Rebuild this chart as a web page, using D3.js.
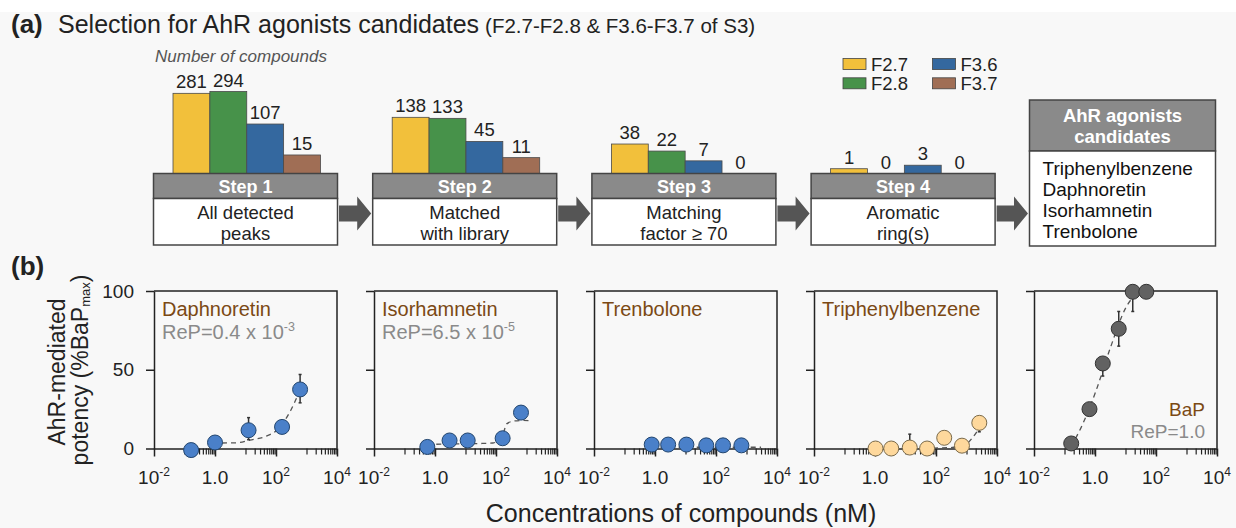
<!DOCTYPE html>
<html>
<head>
<meta charset="utf-8">
<script src="https://cdn.jsdelivr.net/npm/d3@7"></script>
<style>
  html, body { margin: 0; padding: 0; background: #f8f8f8; }
  svg { display: block; font-family: 'Liberation Sans', Arial, sans-serif; }
</style>
</head>
<body>
<div id="chart"></div>
<script>
// (a) number of compounds kept at each step
const steps = ['Step 1', 'Step 2', 'Step 3', 'Step 4'];
const stepNotes = [['All detected', 'peaks'], ['Matched', 'with library'], ['Matching', 'factor ≥ 70'], ['Aromatic', 'ring(s)']];
const fractions = ['F2.7', 'F2.8', 'F3.6', 'F3.7'];
const countF27 = [281, 138, 38, 1];
const countF28 = [294, 133, 22, 0];
const countF36 = [107, 45, 7, 3];
const countF37 = [15, 11, 0, 0];
const candidates = ['Triphenylbenzene', 'Daphnoretin', 'Isorhamnetin', 'Trenbolone'];

// (b) dose-response, concentration in nM, response in %BaPmax
const compounds = ['Daphnoretin', 'Isorhamnetin', 'Trenbolone', 'Triphenylbenzene', 'BaP'];
const repText = ['ReP=0.4 x 10', 'ReP=6.5 x 10', '', '', 'ReP=1.0'];
const repExp = ['-3', '-5', '', '', ''];

const daphConc = [0.165, 1.0, 12.6, 158, 617];
const daphResp = [-1, 3.8, 11.6, 13.7, 37.5];
const daphErrHi = [0, 1, 8, 2, 9.5];
const daphErrLo = [0, 1, 6, 2, 8.5];
const daphFitConc = [1.7, 5, 14, 50, 107, 300, 550];
const daphFitResp = [3.5, 3.6, 5.3, 8, 11.6, 24, 35];

const isoConc = [0.56, 3.0, 11.8, 165, 660];
const isoResp = [1.0, 5.1, 5.1, 6.5, 22.8];
const isoErrHi = [0, 1, 1, 1.5, 1.5];
const isoErrLo = [0, 1, 1, 1.5, 1.5];
const isoFitConc = [0.56, 1.05, 10, 35, 80, 160, 230, 400, 800, 1500];
const isoFitResp = [2.2, 2.7, 3.0, 3.2, 3.5, 8, 15.8, 17.5, 17.8, 17.5];

const trenConc = [0.78, 2.7, 10.7, 48, 170, 680];
const trenResp = [2.5, 2.5, 2.5, 2, 2, 2];
const trenErrHi = [0, 0, 2.5, 0, 0, 0];
const trenErrLo = [0, 0, 0, 0, 0, 0];
const trenFitConc = [0.78, 3000];
const trenFitResp = [0.8, 0.8];

const tpbConc = [1.04, 3.4, 13.8, 51, 186, 710, 2630];
const tpbResp = [0, 0, 0.6, 0, 6.8, 1.8, 16.3];
const tpbErrHi = [0, 0, 8.5, 0, 3.8, 0, 0];
const tpbErrLo = [0, 0, 0, 0, 0, 0, 5.7];
const tpbFitConc = [80, 300, 1000, 1600, 2630];
const tpbFitResp = [0.3, 0.6, 3, 7, 13];

const bapConc = [0.166, 0.66, 1.8, 6.0, 17.3, 48];
const bapResp = [3.2, 25, 54, 76, 99.5, 99.5];
const bapErrHi = [0, 3, 0, 11, 0, 0];
const bapErrLo = [0, 0, 8, 11, 12.5, 0];
const bapFitConc = [0.23, 0.34, 1.05, 3.2, 10, 24];
const bapFitResp = [6.4, 12.8, 36, 64, 89, 99];

const yTicks = [0, 50, 100];
const xMajor = [1e-2, 1, 1e2, 1e4];
const xMajorLabels = [['10', '-2'], ['1.0', ''], ['10', '2'], ['10', '4']];
const xMinorDecades = [1e-1, 1e1, 1e3];

const width = 1236;
const height = 528;
const brown = '#7b4914';
const greyText = '#8a8a8a';

const svg = d3.select('#chart')
  .append('svg')
  .attr('width', width)
  .attr('height', height);

svg.append('rect').attr('width', width).attr('height', height).attr('fill', '#f8f8f8');
svg.append('rect').attr('width', width).attr('height', 12).attr('fill', '#ffffff');

// ---------- (a) ----------
const title = svg.append('text').attr('x', 11).attr('y', 33).attr('fill', '#222');
title.append('tspan').attr('font-weight', 'bold').attr('font-size', 26).text('(a)');
title.append('tspan').attr('x', 58).attr('font-size', 25).text('Selection for AhR agonists candidates');
title.append('tspan').attr('font-size', 20.5).attr('dx', 6).text('(F2.7-F2.8 & F3.6-F3.7 of S3)');

svg.append('text')
  .attr('x', 155).attr('y', 61.5)
  .attr('font-size', 17).attr('font-style', 'italic').attr('fill', '#555')
  .text('Number of compounds');

const fracColor = d3.scaleOrdinal()
  .domain(fractions)
  .range(['#f2c03b', '#47924a', '#34689f', '#a06e55']);

const countsByFraction = [countF27, countF28, countF36, countF37];
const stepData = steps.map((s, i) => ({
  step: s,
  notes: stepNotes[i],
  bars: fractions.map((f, j) => ({ fraction: f, value: countsByFraction[j][i] })),
}));

const boxW = 184;
const boxTop = 173.5;
const headH = 25;
const bodyH = 46.5;
const stepX = (i) => 153.5 + (i * 219.2);

const barX = d3.scaleBand().domain(fractions).range([19.5, 167]);
const barH = d3.scaleSqrt().domain([0, 294]).range([0, 82]);

const stepG = svg.selectAll('.step')
  .data(stepData)
  .enter()
  .append('g')
  .attr('class', 'step')
  .attr('transform', (d, i) => `translate(${stepX(i)},0)`);

stepG.selectAll('.bar')
  .data((d) => d.bars.filter((b) => b.value > 0))
  .enter()
  .append('rect')
  .attr('class', 'bar')
  .attr('x', (b) => barX(b.fraction))
  .attr('width', barX.bandwidth())
  .attr('y', (b) => boxTop - barH(b.value))
  .attr('height', (b) => barH(b.value))
  .attr('fill', (b) => fracColor(b.fraction))
  .attr('stroke', '#4a4a4a')
  .attr('stroke-width', 0.8);

stepG.selectAll('.barLabel')
  .data((d) => d.bars)
  .enter()
  .append('text')
  .attr('class', 'barLabel')
  .attr('x', (b) => barX(b.fraction) + (barX.bandwidth() / 2))
  .attr('y', (b) => boxTop - barH(b.value) - 5)
  .attr('text-anchor', 'middle')
  .attr('font-size', 18.5)
  .attr('fill', '#222')
  .text((b) => b.value);

stepG.append('rect')
  .attr('x', 0).attr('y', boxTop)
  .attr('width', boxW).attr('height', headH)
  .attr('fill', '#8a8a8a').attr('stroke', '#444').attr('stroke-width', 1.5);
stepG.append('rect')
  .attr('x', 0).attr('y', boxTop + headH)
  .attr('width', boxW).attr('height', bodyH)
  .attr('fill', '#ffffff').attr('stroke', '#444').attr('stroke-width', 1.5);
stepG.append('text')
  .attr('x', boxW / 2).attr('y', boxTop + 19)
  .attr('text-anchor', 'middle')
  .attr('font-size', 18).attr('font-weight', 'bold').attr('fill', '#fff')
  .text((d) => d.step);
stepG.selectAll('.note')
  .data((d) => d.notes)
  .enter()
  .append('text')
  .attr('class', 'note')
  .attr('x', boxW / 2)
  .attr('y', (t, k) => boxTop + headH + 20 + (k * 21))
  .attr('text-anchor', 'middle')
  .attr('font-size', 18.5)
  .attr('fill', '#222')
  .text((t) => t);

// candidate box
const candX = 1029.5;
const candW = 186;
svg.append('rect')
  .attr('x', candX).attr('y', 100).attr('width', candW).attr('height', 51)
  .attr('fill', '#8a8a8a').attr('stroke', '#444').attr('stroke-width', 1.5);
svg.append('rect')
  .attr('x', candX).attr('y', 151).attr('width', candW).attr('height', 95)
  .attr('fill', '#ffffff').attr('stroke', '#444').attr('stroke-width', 1.5);
svg.selectAll('.candHead')
  .data(['AhR agonists', 'candidates'])
  .enter()
  .append('text')
  .attr('x', candX + (candW / 2))
  .attr('y', (t, k) => 121.5 + (k * 21))
  .attr('text-anchor', 'middle')
  .attr('font-size', 18.5).attr('font-weight', 'bold').attr('fill', '#fff')
  .text((t) => t);
svg.selectAll('.cand')
  .data(candidates)
  .enter()
  .append('text')
  .attr('x', candX + 13)
  .attr('y', (t, k) => 174.5 + (k * 21))
  .attr('font-size', 19).attr('fill', '#111')
  .text((t) => t);

// arrows between boxes
const arrowStarts = d3.range(4).map((i) => stepX(i) + boxW + 1.5);
const arrowEnds = d3.range(4).map((i) => (i < 3 ? stepX(i + 1) : candX) - 1.5);
const cy = 213.5;
svg.selectAll('.arrow')
  .data(arrowStarts)
  .enter()
  .append('path')
  .attr('class', 'arrow')
  .attr('d', (x0, i) => {
    const x1 = arrowEnds[i];
    const xh = x1 - 14;
    return `M${x0},${cy - 8}H${xh}V${cy - 17}L${x1},${cy}L${xh},${cy + 17}V${cy + 8}H${x0}Z`;
  })
  .attr('fill', '#555');

// legend
const legend = svg.selectAll('.legend')
  .data(fractions)
  .enter()
  .append('g')
  .attr('class', 'legend')
  .attr('transform', (f, i) => `translate(${843 + (Math.floor(i / 2) * 89.5)},${58.5 + ((i % 2) * 19.3)})`);
legend.append('rect')
  .attr('width', 23).attr('height', 11)
  .attr('fill', (f) => fracColor(f))
  .attr('stroke', '#444').attr('stroke-width', 0.8);
legend.append('text')
  .attr('x', 28).attr('y', 12)
  .attr('font-size', 18.5).attr('fill', '#222')
  .text((f) => f);

// ---------- (b) ----------
svg.append('text')
  .attr('x', 11).attr('y', 275)
  .attr('font-size', 26).attr('font-weight', 'bold').attr('fill', '#222')
  .text('(b)');

const series = [
  [daphConc, daphResp, daphErrHi, daphErrLo, daphFitConc, daphFitResp],
  [isoConc, isoResp, isoErrHi, isoErrLo, isoFitConc, isoFitResp],
  [trenConc, trenResp, trenErrHi, trenErrLo, trenFitConc, trenFitResp],
  [tpbConc, tpbResp, tpbErrHi, tpbErrLo, tpbFitConc, tpbFitResp],
  [bapConc, bapResp, bapErrHi, bapErrLo, bapFitConc, bapFitResp],
];
const dotFill = ['#4a80c9', '#4a80c9', '#4a80c9', '#fed89c', '#626262'];
const dotStroke = ['#22456e', '#22456e', '#22456e', '#7a6a4a', '#333'];

const panelW = 183;
const x = d3.scaleLog().domain([1e-2, 1e4]).range([0, panelW]);
const y = d3.scaleLinear().domain([0, 100]).range([448.5, 291]);
const panelX = (i) => 154 + (i * 220);

const xMinor = [];
xMinorDecades.forEach((dec) => {
  d3.range(1, 10).forEach((k) => xMinor.push(k * dec));
});

const fitLine = d3.line()
  .x((p) => x(p.c))
  .y((p) => y(p.r))
  .curve(d3.curveMonotoneX);

series.forEach((s, i) => {
  const [conc, resp, errHi, errLo, fitConc, fitResp] = s;
  const pts = conc.map((c, k) => ({ c, r: resp[k], hi: errHi[k], lo: errLo[k] }));
  const fit = fitConc.map((c, k) => ({ c, r: fitResp[k] }));
  const g = svg.append('g').attr('transform', `translate(${panelX(i)},0)`);

  // frame
  g.append('path')
    .attr('d', `M0,${y(100)}H${panelW}V${y(0)}`)
    .attr('fill', 'none').attr('stroke', '#222').attr('stroke-width', 1.5);

  const yAxis = g.append('g')
    .call(d3.axisLeft(y).tickValues(yTicks).tickSize(8).tickSizeOuter(0).tickPadding(12)
      .tickFormat(i === 0 ? d3.format('d') : () => ''));
  yAxis.selectAll('path, line').attr('stroke', '#222').attr('stroke-width', 1.5);
  yAxis.selectAll('text').attr('font-size', 19).attr('fill', '#222')
    .attr('font-family', "'Liberation Sans', Arial, sans-serif");

  const xMinorAxis = g.append('g')
    .attr('transform', `translate(0,${y(0)})`)
    .call(d3.axisBottom(x).tickValues(xMinor).tickSize(6).tickSizeOuter(0).tickFormat(() => ''));
  xMinorAxis.selectAll('path, line').attr('stroke', '#222').attr('stroke-width', 1.2);
  xMinorAxis.select('.domain').attr('stroke-width', 1.5);

  const xMajorAxis = g.append('g')
    .attr('transform', `translate(0,${y(0)})`)
    .call(d3.axisBottom(x).tickValues(xMajor).tickSize(8).tickFormat(() => ''));
  xMajorAxis.select('.domain').remove();
  xMajorAxis.selectAll('line').attr('stroke', '#222').attr('stroke-width', 1.5);

  const lab = g.selectAll('.xlab')
    .data(xMajor)
    .enter()
    .append('text')
    .attr('class', 'xlab')
    .attr('x', (v) => x(v))
    .attr('y', 484)
    .attr('text-anchor', 'middle')
    .attr('font-size', 19)
    .attr('fill', '#222');
  lab.append('tspan').text((v, k) => xMajorLabels[k][0]);
  lab.append('tspan')
    .attr('dy', -8)
    .attr('font-size', 12)
    .text((v, k) => xMajorLabels[k][1]);

  // fitted curve
  g.append('path')
    .datum(fit)
    .attr('d', fitLine)
    .attr('fill', 'none')
    .attr('stroke', '#555')
    .attr('stroke-width', 1.3)
    .attr('stroke-dasharray', '5,4');

  // error bars
  const eb = g.selectAll('.err')
    .data(pts.filter((p) => p.hi > 0 || p.lo > 0))
    .enter()
    .append('g')
    .attr('class', 'err');
  eb.append('line')
    .attr('x1', (p) => x(p.c)).attr('x2', (p) => x(p.c))
    .attr('y1', (p) => y(p.r + p.hi)).attr('y2', (p) => y(p.r - p.lo))
    .attr('stroke', '#333').attr('stroke-width', 1.5);
  eb.filter((p) => p.hi > 0).append('line')
    .attr('x1', (p) => x(p.c) - 1.5).attr('x2', (p) => x(p.c) + 1.5)
    .attr('y1', (p) => y(p.r + p.hi)).attr('y2', (p) => y(p.r + p.hi))
    .attr('stroke', '#333').attr('stroke-width', 1.5);
  eb.filter((p) => p.lo > 0).append('line')
    .attr('x1', (p) => x(p.c) - 1.5).attr('x2', (p) => x(p.c) + 1.5)
    .attr('y1', (p) => y(p.r - p.lo)).attr('y2', (p) => y(p.r - p.lo))
    .attr('stroke', '#333').attr('stroke-width', 1.5);

  g.selectAll('.dot')
    .data(pts)
    .enter()
    .append('circle')
    .attr('class', 'dot')
    .attr('cx', (p) => x(p.c))
    .attr('cy', (p) => y(p.r))
    .attr('r', 7.5)
    .attr('fill', dotFill[i])
    .attr('stroke', dotStroke[i])
    .attr('stroke-width', 1);

  // compound name and relative potency
  const right = i === 4;
  const tx = right ? panelW - 12 : 8;
  const anchor = right ? 'end' : 'start';
  g.append('text')
    .attr('x', tx).attr('y', right ? 416 : 315.5)
    .attr('text-anchor', anchor)
    .attr('font-size', right ? 19 : 20).attr('fill', brown)
    .text(compounds[i]);
  if (repText[i]) {
    const rp = g.append('text')
      .attr('x', tx).attr('y', right ? 438 : 338.5)
      .attr('text-anchor', anchor)
      .attr('font-size', right ? 19 : 20).attr('fill', greyText);
    rp.append('tspan').text(repText[i]);
    if (repExp[i]) {
      rp.append('tspan').attr('dy', -8).attr('font-size', 12.5).text(repExp[i]);
    }
  }
});

// axis titles
const yTitle = svg.append('g').attr('fill', '#222').attr('font-size', 23);
yTitle.append('text')
  .attr('transform', 'translate(65,372) rotate(-90)')
  .attr('text-anchor', 'middle')
  .text('AhR-mediated');
const yt2 = yTitle.append('text')
  .attr('transform', 'translate(87.5,370) rotate(-90)')
  .attr('text-anchor', 'middle');
yt2.append('tspan').text('potency (%BaP');
yt2.append('tspan').attr('font-size', 13).attr('dy', 2).text('max');
yt2.append('tspan').attr('dy', -2).text(')');

svg.append('text')
  .attr('x', 681).attr('y', 522)
  .attr('text-anchor', 'middle')
  .attr('font-size', 25).attr('fill', '#222')
  .text('Concentrations of compounds (nM)');
</script>
</body>
</html>
